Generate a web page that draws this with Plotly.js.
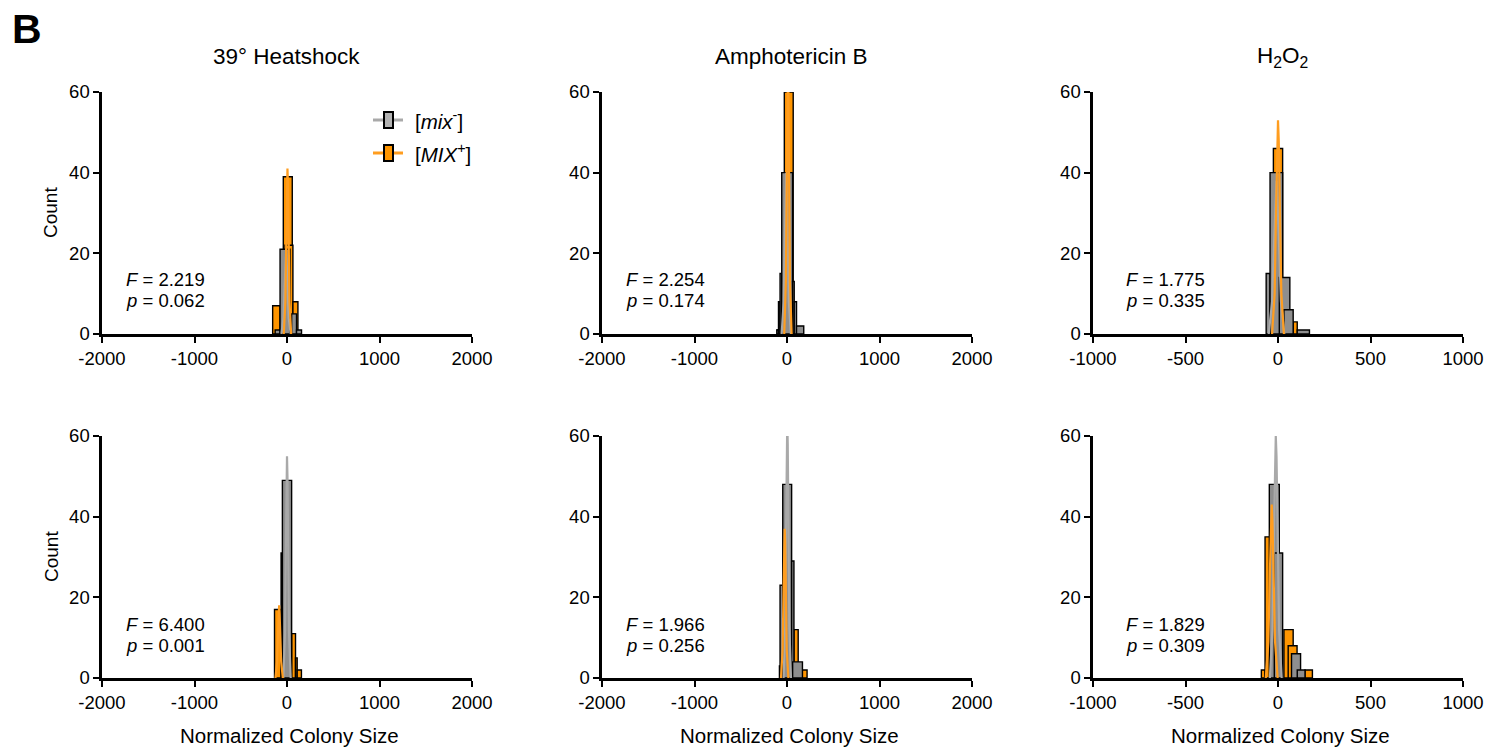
<!DOCTYPE html>
<html>
<head>
<meta charset="utf-8">
<script src="https://cdn.plot.ly/plotly-3.0.1.min.js"></script>
<style>
html,body{margin:0;padding:0;background:#fff;}
#chart{width:1498px;height:748px;}
</style>
</head>
<body>
<div id="chart"></div>
<script>
// ---------------- DATA ----------------
// Histogram bins: [lower edge, upper edge] in Normalized Colony Size units, and counts.
// Row 1 / Row 2, columns: 39° Heatshock, Amphotericin B, H2O2
const panelTitles = ["39° Heatshock", "Amphotericin B", "H<sub>2</sub>O<sub>2</sub>"];
const seriesNames = ["[<i>mix</i><sup>-</sup>]", "[<i>MIX</i><sup>+</sup>]"];
const xTickValsWide = [-2000, -1000, 0, 1000, 2000];
const xTickValsNarrow = [-1000, -500, 0, 500, 1000];
const yTickVals = [0, 20, 40, 60];

// Heatshock, top
const hsTopPlusBins = [[-155,-75],[-40,57],[-21,64],[64,118]];
const hsTopPlusCounts = [7, 39, 22, 8];
const hsTopMinusBins = [[-128,-75],[-75,32],[50,103],[103,157]];
const hsTopMinusCounts = [1, 21, 5, 1];
const hsTopPlusCurveX = [-35,-17,-7,0,5,10,17,27,45];
const hsTopPlusCurveY = [0,8,25,37,41,37,25,8,0];
const hsTopMinusCurveX = [-60,-38,-25,-16,-10,-4,5,18,40];
const hsTopMinusCurveY = [0,4,12,18,20,18,12,4,0];

// Amphotericin B, top
const ambTopPlusBins = [[-106,-75],[-29,67]];
const ambTopPlusCounts = [1, 60];
const ambTopMinusBins = [[-110,-92],[-92,-75],[-75,-57],[-57,60],[60,78],[78,103],[103,181]];
const ambTopMinusCounts = [1, 8, 15, 40, 13, 8, 2];
const ambTopPlusCurveX = [-30,-12,-2,5,10,15,22,32,50];
const ambTopPlusCurveY = [0,13,40,60,66,60,40,13,0];
const ambTopMinusCurveX = [-58,-36,-23,-14,-8,-2,7,20,42];
const ambTopMinusCurveY = [0,8,24,36,40,36,24,8,0];

// H2O2, top
const h2TopPlusBins = [[-25,25],[82,104]];
const h2TopPlusCounts = [46, 3];
const h2TopMinusBins = [[-64,-43],[-43,25],[7,64],[32,82],[104,170]];
const h2TopMinusCounts = [15, 40, 14, 6, 1];
const h2TopPlusCurveX = [-32,-18,-10,-4,0,4,10,18,32];
const h2TopPlusCurveY = [0,10,32,48,53,48,32,10,0];
const h2TopMinusCurveX = [-50,-32,-21,-13,-8,-3,5,16,34];
const h2TopMinusCurveY = [0,8,23,34,38,34,23,8,0];

// Heatshock, bottom
const hsBotPlusBins = [[-135,-64],[50,92],[92,110],[110,156]];
const hsBotPlusCounts = [17, 11, 5, 2];
const hsBotMinusBins = [[-64,-50],[-50,50]];
const hsBotMinusCounts = [31, 49];
const hsBotPlusCurveX = [-125,-107,-97,-90,-85,-80,-73,-63,-45];
const hsBotPlusCurveY = [0,4,11,16,18,16,11,4,0];
const hsBotMinusCurveX = [-40,-22,-12,-5,0,5,12,22,40];
const hsBotMinusCurveY = [0,11,33,50,55,50,33,11,0];

// Amphotericin B, bottom
const ambBotPlusBins = [[-82,-57],[75,121],[164,217]];
const ambBotPlusCounts = [3, 12, 2];
const ambBotMinusBins = [[-75,-46],[-46,50],[50,75],[61,167]];
const ambBotMinusCounts = [23, 48, 29, 4];
const ambBotPlusCurveX = [-65,-47,-37,-30,-25,-20,-13,-3,15];
const ambBotPlusCurveY = [0,7,22,34,37,34,22,7,0];
const ambBotMinusCurveX = [-37,-19,-9,-2,3,8,15,25,43];
const ambBotMinusCurveY = [0,13,39,58,64,58,39,13,0];

// H2O2, bottom
const h2BotPlusBins = [[-90,-70],[-70,-43],[32,82],[55,103],[146,186]];
const h2BotPlusCounts = [2, 35, 12, 8, 2];
const h2BotMinusBins = [[-47,7],[-20,25],[73,122],[104,146]];
const h2BotMinusCounts = [48, 31, 6, 2];
const h2BotPlusCurveX = [-66,-52,-44,-38,-34,-30,-24,-16,-2];
const h2BotPlusCurveY = [0,9,26,39,43,39,26,9,0];
const h2BotMinusCurveX = [-44,-30,-22,-16,-12,-8,-2,6,20];
const h2BotMinusCurveY = [0,12,36,55,60,55,36,12,0];

// Statistics text
const fValues = ["2.219", "2.254", "1.775", "6.400", "1.966", "1.829"];
const pValues = ["0.062", "0.174", "0.335", "0.001", "0.256", "0.309"];

// ---------------- BUILD ----------------
const W = 1498, H = 748;
const px = v => v / W;
const py = v => 1 - v / H;

const GRAY = '#8e8e8e', ORANGE = '#ff9500';
const GRAY_LINE = '#a9a9a9', ORANGE_LINE = '#ff9d1f';
const FONT = '"Liberation Sans", Arial, Helvetica, sans-serif';

const panels = [
  {plus: hsTopPlusBins, plusN: hsTopPlusCounts, minus: hsTopMinusBins, minusN: hsTopMinusCounts,
   pcx: hsTopPlusCurveX, pcy: hsTopPlusCurveY, mcx: hsTopMinusCurveX, mcy: hsTopMinusCurveY, col: 0, row: 0},
  {plus: ambTopPlusBins, plusN: ambTopPlusCounts, minus: ambTopMinusBins, minusN: ambTopMinusCounts,
   pcx: ambTopPlusCurveX, pcy: ambTopPlusCurveY, mcx: ambTopMinusCurveX, mcy: ambTopMinusCurveY, col: 1, row: 0},
  {plus: h2TopPlusBins, plusN: h2TopPlusCounts, minus: h2TopMinusBins, minusN: h2TopMinusCounts,
   pcx: h2TopPlusCurveX, pcy: h2TopPlusCurveY, mcx: h2TopMinusCurveX, mcy: h2TopMinusCurveY, col: 2, row: 0},
  {plus: hsBotPlusBins, plusN: hsBotPlusCounts, minus: hsBotMinusBins, minusN: hsBotMinusCounts,
   pcx: hsBotPlusCurveX, pcy: hsBotPlusCurveY, mcx: hsBotMinusCurveX, mcy: hsBotMinusCurveY, col: 0, row: 1},
  {plus: ambBotPlusBins, plusN: ambBotPlusCounts, minus: ambBotMinusBins, minusN: ambBotMinusCounts,
   pcx: ambBotPlusCurveX, pcy: ambBotPlusCurveY, mcx: ambBotMinusCurveX, mcy: ambBotMinusCurveY, col: 1, row: 1},
  {plus: h2BotPlusBins, plusN: h2BotPlusCounts, minus: h2BotMinusBins, minusN: h2BotMinusCounts,
   pcx: h2BotPlusCurveX, pcy: h2BotPlusCurveY, mcx: h2BotMinusCurveX, mcy: h2BotMinusCurveY, col: 2, row: 1}
];

// pixel geometry of plot areas
const colX = [[102, 472], [602, 972], [1093, 1463]];
const rowY = [[92, 334], [436, 678]];

const traces = [];
const layout = {
  width: W, height: H,
  margin: {l: 0, r: 0, t: 0, b: 0},
  paper_bgcolor: '#fff', plot_bgcolor: 'rgba(0,0,0,0)',
  barmode: 'overlay',
  showlegend: false,
  font: {family: FONT, color: '#000', size: 18},
  annotations: [], shapes: []
};

function barTrace(bins, counts, color, xa, ya) {
  return {
    type: 'bar',
    x: bins.map(b => (b[0] + b[1]) / 2),
    width: bins.map(b => b[1] - b[0]),
    y: counts,
    marker: {color: color, line: {color: '#000', width: 1.4}},
    opacity: 1,
    xaxis: xa, yaxis: ya, hoverinfo: 'skip', showlegend: false
  };
}
function curveTrace(xs, ys, color, xa, ya) {
  return {
    type: 'scatter', mode: 'lines', x: xs, y: ys,
    line: {color: color, width: 2.2},
    xaxis: xa, yaxis: ya, hoverinfo: 'skip', showlegend: false
  };
}

panels.forEach((p, i) => {
  const n = i + 1;
  const xa = n === 1 ? 'x' : 'x' + n;
  const ya = n === 1 ? 'y' : 'y' + n;
  traces.push(barTrace(p.plus, p.plusN, ORANGE, xa, ya));
  traces.push(barTrace(p.minus, p.minusN, GRAY, xa, ya));
  traces.push(curveTrace(p.mcx, p.mcy, GRAY_LINE, xa, ya));
  traces.push(curveTrace(p.pcx, p.pcy, ORANGE_LINE, xa, ya));

  const narrow = p.col === 2;
  const cx = colX[p.col], ry = rowY[p.row];
  const axCommon = {
    showline: true, linecolor: '#000', linewidth: 2.6,
    ticks: 'outside', ticklen: 6, tickwidth: 2, tickcolor: '#000',
    showgrid: false, zeroline: false, fixedrange: true,
    tickfont: {family: FONT, size: 18.5, color: '#000'}
  };
  layout['xaxis' + (n === 1 ? '' : n)] = Object.assign({}, axCommon, {
    domain: [px(cx[0]), px(cx[1])],
    range: narrow ? [-1000, 1000] : [-2000, 2000],
    tickmode: 'array',
    tickvals: narrow ? xTickValsNarrow : xTickValsWide,
    ticktext: (narrow ? xTickValsNarrow : xTickValsWide).map(String),
    anchor: ya
  });
  layout['yaxis' + (n === 1 ? '' : n)] = Object.assign({}, axCommon, {
    domain: [py(ry[1]), py(ry[0])],
    range: [0, 60],
    tickmode: 'array', tickvals: yTickVals, ticktext: yTickVals.map(String),
    anchor: xa
  });

  // F and p statistics
  const tx = cx[0] + (narrow ? 31 : 22);
  const fy = ry[1] - 54, pyy = ry[1] - 33;
  layout.annotations.push({xref: 'paper', yref: 'paper', x: px(tx), y: py(fy), xanchor: 'left', yanchor: 'middle',
    text: '<i>F</i> = ' + fValues[i], showarrow: false, font: {family: FONT, size: 18.5, color: '#000'}});
  layout.annotations.push({xref: 'paper', yref: 'paper', x: px(tx), y: py(pyy), xanchor: 'left', yanchor: 'middle',
    text: '<i>p</i> = ' + pValues[i], showarrow: false, font: {family: FONT, size: 18.5, color: '#000'}});
});

// Column titles
const titleX = [286, 791, 1282];
panelTitles.forEach((t, i) => {
  layout.annotations.push({xref: 'paper', yref: 'paper', x: px(titleX[i]), y: py(57), xanchor: 'center', yanchor: 'middle',
    text: t, showarrow: false, font: {family: FONT, size: 22.5, color: '#000'}});
});
// Panel letter
layout.annotations.push({xref: 'paper', yref: 'paper', x: px(10), y: py(29), xanchor: 'left', yanchor: 'middle',
  text: '<b>B</b>', showarrow: false, font: {family: FONT, size: 41, color: '#000'}});
// Y axis titles
[213, 557].forEach(yc => {
  layout.annotations.push({xref: 'paper', yref: 'paper', x: px(51), y: py(yc), xanchor: 'center', yanchor: 'middle',
    text: 'Count', textangle: -90, showarrow: false, font: {family: FONT, size: 19, color: '#000'}});
});
// X axis titles
[289, 789, 1280].forEach(xc => {
  layout.annotations.push({xref: 'paper', yref: 'paper', x: px(xc), y: py(735), xanchor: 'center', yanchor: 'middle',
    text: 'Normalized Colony Size', showarrow: false, font: {family: FONT, size: 20.5, color: '#000'}});
});

// Legend (drawn manually)
const legendItems = [
  {y: 120, line: GRAY_LINE, fill: '#b3b3b3', text: seriesNames[0]},
  {y: 153, line: ORANGE_LINE, fill: ORANGE, text: seriesNames[1]}
];
legendItems.forEach(it => {
  layout.shapes.push({type: 'line', xref: 'paper', yref: 'paper', x0: px(373), x1: px(403), y0: py(it.y), y1: py(it.y),
    line: {color: it.line, width: 3}});
  layout.shapes.push({type: 'rect', xref: 'paper', yref: 'paper', x0: px(384), x1: px(393), y0: py(it.y - 8), y1: py(it.y + 8),
    fillcolor: it.fill, line: {color: '#000', width: 2}});
  layout.annotations.push({xref: 'paper', yref: 'paper', x: px(413), y: py(it.y), xanchor: 'left', yanchor: 'middle',
    text: it.text, showarrow: false, font: {family: FONT, size: 20.5, color: '#000'}});
});

Plotly.newPlot('chart', traces, layout, {displayModeBar: false, staticPlot: true});
</script>
</body>
</html>
